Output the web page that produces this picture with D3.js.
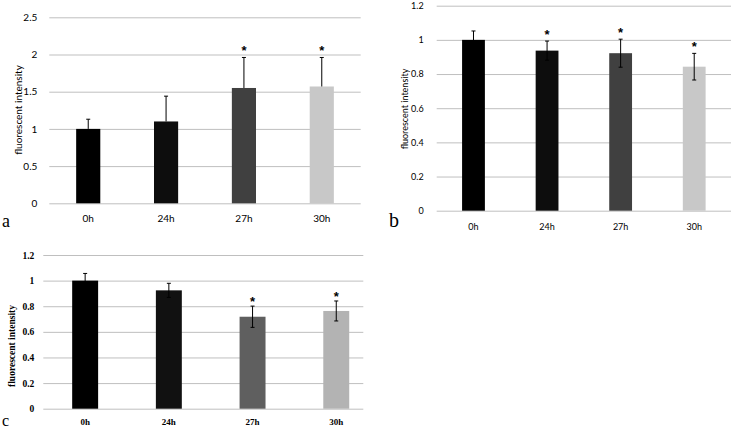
<!DOCTYPE html>
<html>
<head>
<meta charset="utf-8">
<script src="https://cdn.jsdelivr.net/npm/d3@7"></script>
<style>
  body { margin: 0; background: #fff; }
  svg { display: block; }
</style>
</head>
<body>
<svg id="chart" width="735" height="428"></svg>
<script>
// data
const categories = ["0h", "24h", "27h", "30h"];

const valuesA = [1.0, 1.1, 1.55, 1.57];
const errA = [0.13, 0.34, 0.41, 0.39];
const starsA = [false, false, true, true];
const ticksA = [0, 0.5, 1, 1.5, 2, 2.5];

const valuesB = [1.0, 0.937, 0.922, 0.843];
const errB = [0.052, 0.056, 0.082, 0.078];
const starsB = [false, true, true, true];

const valuesC = [1.0, 0.924, 0.718, 0.763];
const errC = [0.056, 0.055, 0.083, 0.078];
const starsC = [false, false, true, true];

const ticksBC = [0, 0.2, 0.4, 0.6, 0.8, 1, 1.2];

const colorsAB = ["#000000", "#0d0d0d", "#404040", "#c8c8c8"];
const colorsC = ["#000000", "#111111", "#5f5f5f", "#b3b3b3"];

const svg = d3.select("#chart");

function drawPanel(p) {
  const g = svg.append("g");
  const x = d3.scaleBand().domain(categories).range(p.xRange);
  const y = d3.scaleLinear().domain([0, p.yMax]).range(p.yRange);
  const gridW = p.gridRight - p.xRange[0];

  // y axis + gridlines
  const ya = g.append("g")
    .attr("transform", `translate(${p.xRange[0]},0)`)
    .call(d3.axisLeft(y).tickValues(p.ticks).tickSize(-gridW)
      .tickPadding(p.tickPad).tickFormat(d3.format("~g")));
  ya.select(".domain").remove();
  ya.selectAll("line").attr("stroke", "#bfbfbf");
  ya.selectAll("text")
    .style("font-family", p.font).style("font-size", p.tickSize + "px")
    .style("font-weight", p.weight).attr("fill", "#000");

  // x axis labels
  const xa = g.append("g")
    .attr("transform", `translate(0,${p.yRange[0]})`)
    .call(d3.axisBottom(x).tickSize(0).tickPadding(p.xPad));
  xa.select(".domain").remove();
  xa.selectAll("text")
    .style("font-family", p.font).style("font-size", p.xSize + "px")
    .style("font-weight", p.weight).attr("fill", "#000");

  const bw = x.bandwidth() * 0.31;
  const rows = categories.map((c, i) => ({ c, v: p.values[i], e: p.err[i], s: p.stars[i], col: p.colors[i] }));

  g.selectAll(".bar").data(rows).enter().append("rect")
    .attr("x", d => x(d.c) + x.bandwidth() / 2 - bw / 2)
    .attr("width", bw)
    .attr("y", d => y(d.v))
    .attr("height", d => y(0) - y(d.v))
    .attr("fill", d => d.col);

  // error bars
  const cx = d => x(d.c) + x.bandwidth() / 2;
  const lo = d => p.plusOnly ? d.v : d.v - d.e;
  g.selectAll(".err").data(rows).enter().append("line")
    .attr("x1", cx).attr("x2", cx)
    .attr("y1", d => y(lo(d))).attr("y2", d => y(d.v + d.e))
    .attr("stroke", "#000").attr("stroke-width", 1);
  g.selectAll(".capT").data(rows).enter().append("line")
    .attr("x1", d => cx(d) - 2).attr("x2", d => cx(d) + 2)
    .attr("y1", d => y(d.v + d.e)).attr("y2", d => y(d.v + d.e))
    .attr("stroke", "#000").attr("stroke-width", 1);
  if (!p.plusOnly) {
    g.selectAll(".capB").data(rows).enter().append("line")
      .attr("x1", d => cx(d) - 2).attr("x2", d => cx(d) + 2)
      .attr("y1", d => y(lo(d))).attr("y2", d => y(lo(d)))
      .attr("stroke", "#000").attr("stroke-width", 1);
  }

  // significance stars
  g.selectAll(".star").data(rows.filter(d => d.s)).enter().append("text")
    .attr("x", cx)
    .attr("y", d => y(d.v + d.e) - p.starGap)
    .attr("text-anchor", "middle")
    .style("font-family", "Liberation Sans, sans-serif")
    .style("font-weight", "bold")
    .style("font-size", "13px")
    .text("*");

  // y axis title
  g.append("text")
    .attr("transform", `translate(${p.titleX},${p.titleY}) rotate(-90)`)
    .attr("text-anchor", "middle")
    .attr("dominant-baseline", "central")
    .style("font-family", p.font).style("font-size", p.titleSize + "px")
    .style("font-weight", p.weight)
    .text("fluorescent intensity");

  // panel letter
  g.append("text")
    .attr("x", p.letterX).attr("y", p.letterY)
    .style("font-family", "Liberation Serif, serif")
    .style("font-size", p.letterSize + "px")
    .text(p.letter);
}

drawPanel({
  values: valuesA, err: errA, stars: starsA, colors: colorsAB, ticks: ticksA, yMax: 2.5,
  xRange: [49.3, 360.7], gridRight: 360.7, yRange: [203.3, 17.3], plusOnly: true,
  font: "Lato, sans-serif", weight: "normal", tickSize: 10, xSize: 10, tickPad: 12, xPad: 12,
  titleX: 18, titleY: 110, titleSize: 10, starGap: 2,
  letter: "a", letterX: 2, letterY: 227, letterSize: 18
});

drawPanel({
  values: valuesB, err: errB, stars: starsB, colors: colorsAB, ticks: ticksBC, yMax: 1.2,
  xRange: [436.7, 731], gridRight: 731, yRange: [210.7, 5.7], plusOnly: false,
  font: "Lato, sans-serif", weight: "normal", tickSize: 9, xSize: 9, tickPad: 13, xPad: 13,
  titleX: 404, titleY: 109, titleSize: 9, starGap: 2,
  letter: "b", letterX: 389, letterY: 227, letterSize: 20
});

drawPanel({
  values: valuesC, err: errC, stars: starsC, colors: colorsC, ticks: ticksBC, yMax: 1.2,
  xRange: [43.3, 378.1], gridRight: 363.3, yRange: [408.7, 255], plusOnly: false,
  font: "Liberation Serif, serif", weight: "bold", tickSize: 9.5, xSize: 9, tickPad: 9, xPad: 10,
  titleX: 11.5, titleY: 346, titleSize: 9.5, starGap: 0,
  letter: "c", letterX: 2, letterY: 426, letterSize: 16
});
</script>
</body>
</html>
